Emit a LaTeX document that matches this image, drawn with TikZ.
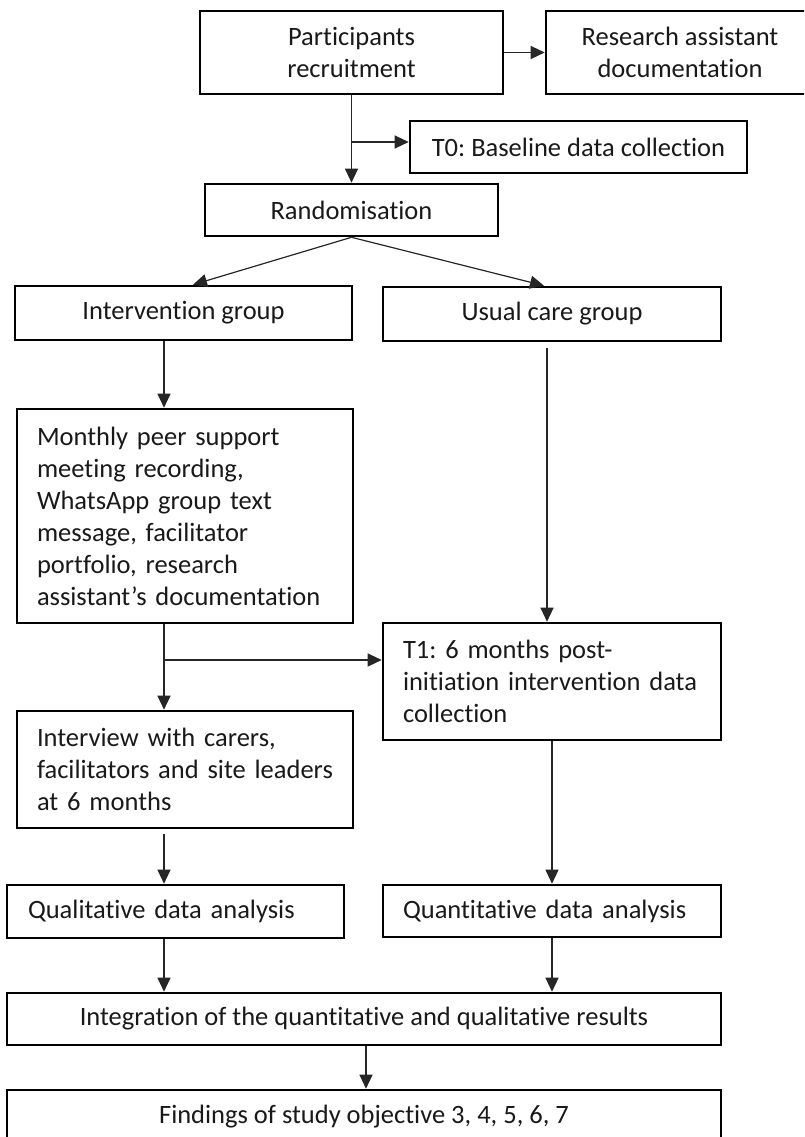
\documentclass[tikz,border=0pt]{standalone}
\usepackage{fontspec}
\setmainfont{Carlito}[Ligatures=NoCommon]
\usetikzlibrary{arrows.meta,calc}

\begin{document}
\frenchspacing
\begin{tikzpicture}[x=1pt,y=-1pt,
  box/.style={draw=black, line width=2.6pt, rectangle, inner sep=0pt,
    font=\fontsize{26.5}{32}\selectfont\frenchspacing, text=black!90},
  cbox/.style={box, align=center},
  lbox/.style={box, align=left},
  link/.style={line width=1.2pt, draw=black!85,
    -{Triangle[length=14pt,width=13pt]}}]

\useasboundingbox (0,0) rectangle (804,1137);
\clip (0,0) rectangle (804,1137);

% columns used by the vertical connectors
\coordinate (lc) at (164,0);
\coordinate (rc) at (547,0);

% boxes
\node[cbox, minimum width=303pt, minimum height=83pt] (part) at (351.5,52.5)
  {Participants\\recruitment};
\node[cbox, minimum width=268pt, minimum height=83pt] (ra) at (680,52.5)
  {Research assistant\\documentation};
\node[cbox, minimum width=337pt, minimum height=52pt] (t0) at (578.5,147)
  {T0: Baseline data collection};
\node[cbox, minimum width=293pt, minimum height=52pt] (rand) at (351.5,210)
  {Randomisation};
\node[cbox, minimum width=337pt, minimum height=54pt] (int) at (183.5,313)
  {Intervention group};
\node[cbox, minimum width=338pt, minimum height=54pt] (usual) at (552,314)
  {Usual care group};
\node[lbox, inner xsep=20pt, text width=296pt, minimum height=214pt] (monthly) at (185,516)
  {Monthly peer support\\meeting recording,\\WhatsApp group text\\message, facilitator\\portfolio, research\\assistant’s documentation};
\node[lbox, inner xsep=20pt, text width=298pt, minimum height=117pt] (t1) at (552,681.5)
  {T1: 6 months post-\\initiation intervention data\\collection};
\node[lbox, inner xsep=20pt, text width=296pt, minimum height=117pt] (interview) at (185,769.5)
  {Interview with carers,\\facilitators and site leaders\\at 6 months};
\node[lbox, inner xsep=21pt, text width=295pt, minimum height=53pt] (qual) at (175.5,911.5)
  {Qualitative data analysis};
\node[lbox, inner xsep=20pt, text width=298pt, minimum height=52pt] (quant) at (552,911)
  {Quantitative data analysis};
\node[cbox, minimum width=714pt, minimum height=52pt] (integ) at (364,1019)
  {Integration of the quantitative and qualitative results};
\node[cbox, minimum width=714pt, minimum height=54pt] (find) at (364,1117)
  {Findings of study objective 3, 4, 5, 6, 7};

% connectors
\draw[link] (part.east) -- (ra.west);
\draw[link] (part.south) -- (rand.north);
\coordinate (b0) at (351.5,142);
\draw[link] (b0) -- (b0 -| t0.west);
\draw[link] (rand.south) -- ($(int.north)+(9.5,0)$);
\draw[link] (rand.south) -- ($(usual.north)+(-8,0)$);
\draw[link] (int.south -| lc) -- (monthly.north -| lc);
\draw[link] ($(usual.south -| rc)+(0,6)$) -- (t1.north -| rc);
\draw[link] (monthly.south -| lc) -- (interview.north -| lc);
\coordinate (b1) at (164,660);
\draw[link] (b1) -- (b1 -| t1.west);
\draw[link] ($(interview.south -| lc)+(0,5)$) -- (qual.north -| lc);
\draw[link] (t1.south) -- (quant.north);
\draw[link] (qual.south -| lc) -- (integ.north -| lc);
\draw[link] (quant.south) -- (quant.south |- integ.north);
\draw[link] ($(integ.south)+(2,0)$) -- ($(find.north)+(2,0)$);
\end{tikzpicture}
\end{document}
